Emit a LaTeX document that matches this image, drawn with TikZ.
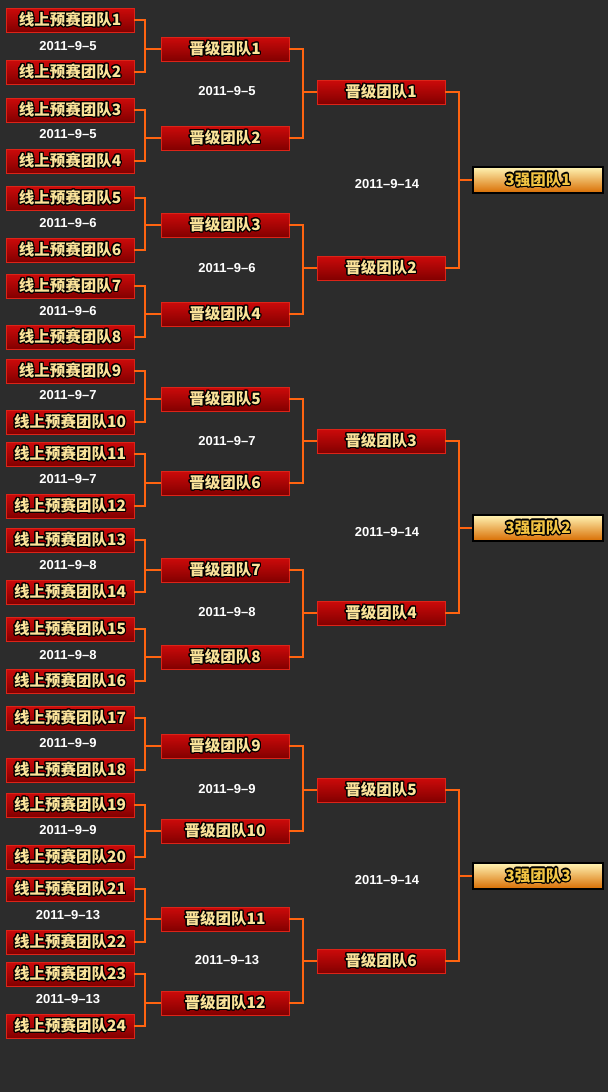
\documentclass[tikz,border=0pt]{standalone}
\usepackage{fontspec}
\setmainfont{Liberation Sans}
\newfontfamily\cjk{Noto Sans CJK SC}
\usepackage{contour}
\contourlength{1.2pt}

\definecolor{bgc}{HTML}{2C2C2C}
\definecolor{linkc}{HTML}{FF6410}
\definecolor{boxtop}{HTML}{CC0A0A}
\definecolor{boxbot}{HTML}{820000}
\definecolor{boxedge}{HTML}{DC2418}
\definecolor{goldtxt}{HTML}{FBE39A}
\definecolor{fintop}{HTML}{FFF4B4}
\definecolor{finmid}{HTML}{F6C81E}
\definecolor{finbot}{HTML}{D86C00}
\definecolor{fintxt}{HTML}{F2C443}

\tikzset{
  team/.style={rectangle, draw=boxedge, line width=0.8pt,
    top color=boxtop, bottom color=boxbot,
    minimum width=128pt, minimum height=24pt, inner sep=0pt,
    text=goldtxt, font=\cjk\bfseries\fontsize{15.5}{16}\selectfont},
  final/.style={rectangle, draw=black, line width=1.8pt,
    top color=fintop, middle color=finmid, bottom color=finbot,
    minimum width=130pt, minimum height=26pt, inner sep=0pt,
    text=fintxt, font=\cjk\bfseries\fontsize{15.5}{16}\selectfont},
  date/.style={text=white, font=\bfseries\fontsize{13}{13}\selectfont},
  link/.style={color=linkc, line width=2pt}
}

\begin{document}
\begin{tikzpicture}[x=1pt,y=-1pt]
  \fill[bgc] (0,0) rectangle (608,1092);
  \useasboundingbox (0,0) rectangle (608,1092);

  % first round
  \foreach \i/\y in {1/20,2/72,3/110,4/161,5/198,6/250,7/286,8/337,
                     9/371,10/422,11/454,12/506,13/540,14/592,15/629,16/681,
                     17/718,18/770,19/805,20/857,21/889,22/942,23/974,24/1026}
    \node[team] (q\i) at (70,\y) {\contour{black}{线上预赛团队\i}};
  \foreach \y/\d in {46/5,134/5,223/6,311/6,395/7,479/7,565/8,655/8,
                     743/9,830/9,915/13,999/13}
    \node[date] at (68,\y) {2011–9–\d};

  % promoted teams
  \foreach \i/\y in {1/49,2/138,3/225,4/314,5/399,6/483,7/570,8/657,
                     9/746,10/831,11/919,12/1003}
    \node[team] (p\i) at (225,\y) {\contour{black}{晋级团队\i}};
  \foreach \y/\d in {91/5,268/6,441/7,612/8,789/9,960/13}
    \node[date] at (227,\y) {2011–9–\d};

  % second round
  \foreach \i/\y in {1/92,2/268,3/441,4/613,5/790,6/961}
    \node[team] (s\i) at (381,\y) {\contour{black}{晋级团队\i}};
  \foreach \y in {184,532,880}
    \node[date] at (387,\y) {2011–9–14};

  % top three
  \foreach \i/\y in {1/180,2/528,3/876}
    \node[final] (f\i) at (538,\y) {\contour{black}{3强团队\i}};

  \foreach \c in {1,...,12} {
    \pgfmathtruncatemacro\a{2*\c-1}
    \pgfmathtruncatemacro\b{2*\c}
    \draw[link] (q\a.east) -- ++(11,0) |- (p\c.west);
    \draw[link] (q\b.east) -- ++(11,0) |- (p\c.west);
  }
  \foreach \c in {1,...,6} {
    \pgfmathtruncatemacro\a{2*\c-1}
    \pgfmathtruncatemacro\b{2*\c}
    \draw[link] (p\a.east) -- ++(14,0) |- (s\c.west);
    \draw[link] (p\b.east) -- ++(14,0) |- (s\c.west);
  }
  \foreach \c in {1,2,3} {
    \pgfmathtruncatemacro\a{2*\c-1}
    \pgfmathtruncatemacro\b{2*\c}
    \draw[link] (s\a.east) -- ++(14,0) |- (f\c.west);
    \draw[link] (s\b.east) -- ++(14,0) |- (f\c.west);
  }
\end{tikzpicture}
\end{document}
